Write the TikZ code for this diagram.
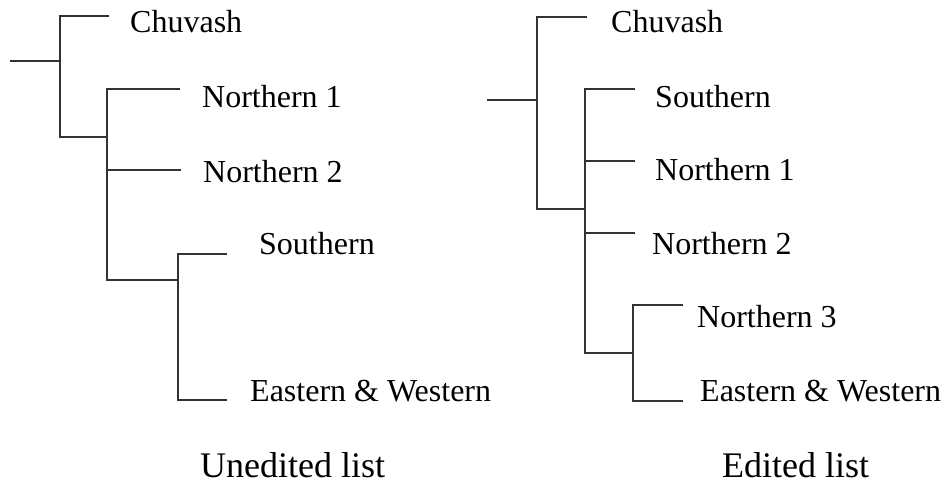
\documentclass[tikz,border=0pt]{standalone}
\usepackage{fontspec}
\setmainfont{Liberation Serif}
\begin{document}
\begin{tikzpicture}[x=1pt,y=-1pt,
  lbl/.style={anchor=base west,inner sep=0pt,font=\fontsize{32}{32}\selectfont},
  captxt/.style={anchor=base west,inner sep=0pt,font=\fontsize{36}{36}\selectfont},
  branch/.style={draw=black!80,line width=2pt,line cap=rect}]
\useasboundingbox (0,0) rectangle (949,486);
% ---------- left tree (unedited) ----------
\coordinate (Lr) at (11,61);
\coordinate (La) at (60,61);
\coordinate (Lat) at (60,16);
\coordinate (Lab) at (60,137);
\coordinate (Lc) at (108,16);
\coordinate (Lb) at (107,137);
\coordinate (Lbt) at (107,89);
\coordinate (Lbb) at (107,280);
\coordinate (Ln1) at (179,89);
\coordinate (Lbm) at (107,170);
\coordinate (Ln2) at (180,170);
\coordinate (Ld) at (178,280);
\coordinate (Ldt) at (178,254);
\coordinate (Ldb) at (178,400);
\coordinate (Ls) at (226,254);
\coordinate (Le) at (226,400);
\draw[branch] (Lr) -- (La);
\draw[branch] (Lc) -- (Lat) -- (Lab) -- (Lb);
\draw[branch] (Ln1) -- (Lbt) -- (Lbb) -- (Ld);
\draw[branch] (Lbm) -- (Ln2);
\draw[branch] (Ls) -- (Ldt) -- (Ldb) -- (Le);
\node[lbl] (tLc) at (130,33) {Chuvash};
\node[lbl] (tLn1) at (202,108) {Northern 1};
\node[lbl] (tLn2) at (203,183) {Northern 2};
\node[lbl] (tLs) at (259,254) {Southern};
\node[lbl] (tLe) at (250,401) {Eastern \& Western};
\node[captxt] (tLcap) at (200,477) {Unedited list};
% ---------- right tree (edited) ----------
\coordinate (Rr) at (488,100);
\coordinate (Ra) at (537,100);
\coordinate (Rat) at (537,17);
\coordinate (Rab) at (537,209);
\coordinate (Rc) at (586,17);
\coordinate (Rb) at (585,209);
\coordinate (Rbt) at (585,89);
\coordinate (Rbb) at (585,353);
\coordinate (Rs) at (634,89);
\coordinate (Rm1) at (585,161);
\coordinate (Rn1) at (634,161);
\coordinate (Rm2) at (585,233);
\coordinate (Rn2) at (634,233);
\coordinate (Rd) at (633,353);
\coordinate (Rdt) at (633,305);
\coordinate (Rdb) at (633,401);
\coordinate (Rn3) at (682,305);
\coordinate (Re) at (682,401);
\draw[branch] (Rr) -- (Ra);
\draw[branch] (Rc) -- (Rat) -- (Rab) -- (Rb);
\draw[branch] (Rs) -- (Rbt) -- (Rbb) -- (Rd);
\draw[branch] (Rm1) -- (Rn1);
\draw[branch] (Rm2) -- (Rn2);
\draw[branch] (Rn3) -- (Rdt) -- (Rdb) -- (Re);
\node[lbl] (tRc) at (611,33) {Chuvash};
\node[lbl] (tRs) at (655,108) {Southern};
\node[lbl] (tRn1) at (655,181) {Northern 1};
\node[lbl] (tRn2) at (652,254) {Northern 2};
\node[lbl] (tRn3) at (697,327) {Northern 3};
\node[lbl] (tRe) at (700,401) {Eastern \& Western};
\node[captxt] (tRcap) at (722,477) {Edited list};
\end{tikzpicture}
\end{document}
